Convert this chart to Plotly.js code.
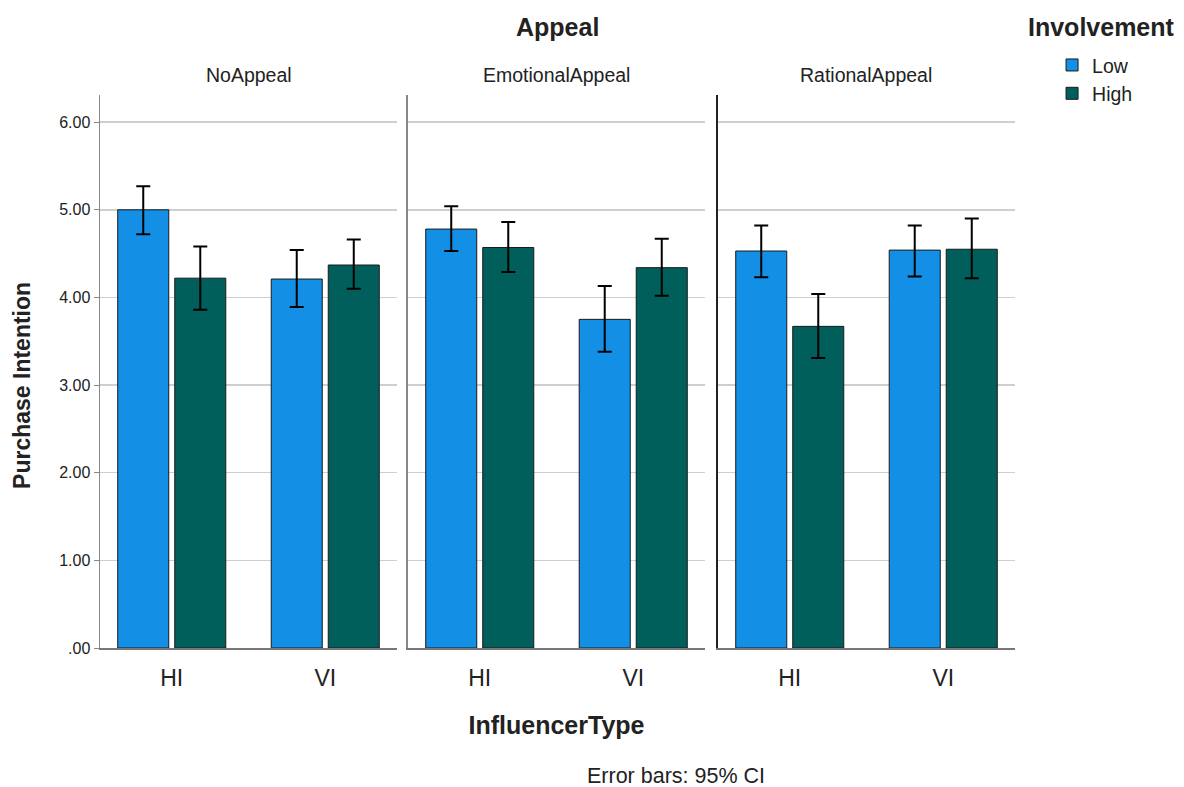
<!DOCTYPE html>
<html><head><meta charset="utf-8">
<script src="https://cdn.plot.ly/plotly-3.0.1.min.js"></script>
<style>html,body{margin:0;padding:0;background:#fff}#chart{width:1184px;height:787px}</style>
</head><body><div id="chart"></div>
<script>
const panels = ["NoAppeal", "EmotionalAppeal", "RationalAppeal"];
const categories = ["HI", "VI"];
const seriesNames = ["Low", "High"];
// means per panel [HI, VI]
const lowMeans  = [[5.00, 4.21], [4.78, 3.75], [4.53, 4.54]];
const highMeans = [[4.22, 4.37], [4.57, 4.34], [3.67, 4.55]];
// 95% CI bounds
const lowUpper  = [[5.27, 4.54], [5.04, 4.13], [4.82, 4.82]];
const lowLower  = [[4.72, 3.89], [4.53, 3.38], [4.23, 4.24]];
const highUpper = [[4.58, 4.66], [4.86, 4.67], [4.04, 4.90]];
const highLower = [[3.86, 4.10], [4.29, 4.02], [3.31, 4.22]];
const yTickVals = [0, 1, 2, 3, 4, 5, 6];
const yTickText = [".00", "1.00", "2.00", "3.00", "4.00", "5.00", "6.00"];

const colors = {Low: "#1390e6", High: "#005f5a"};
const FONT = "Liberation Sans, Arial, sans-serif";
const TXT = "#222";
const traces = [];
const seriesData = {
  Low: {m: lowMeans, u: lowUpper, l: lowLower},
  High: {m: highMeans, u: highUpper, l: highLower}
};
panels.forEach((p, i) => {
  const suffix = i === 0 ? "" : String(i + 1);
  seriesNames.forEach(s => {
    const d = seriesData[s];
    traces.push({
      type: "bar", name: s, x: categories, y: d.m[i],
      xaxis: "x" + suffix, yaxis: "y" + suffix,
      legendgroup: s, showlegend: i === 0,
      marker: {color: colors[s], line: {color: "#1a1a1a", width: 1}},
      error_y: {type: "data", symmetric: false,
        array: d.m[i].map((v, k) => d.u[i][k] - v),
        arrayminus: d.m[i].map((v, k) => v - d.l[i][k]),
        color: "#000", thickness: 2, width: 7},
      hoverinfo: "y"
    });
  });
});

const domains = [[0, 0.3246], [0.3366, 0.6612], [0.6754, 1]];
const layout = {
  width: 1184, height: 787,
  margin: {l: 100, r: 169, t: 95, b: 139},
  paper_bgcolor: "#fff", plot_bgcolor: "#fff",
  font: {family: FONT, color: TXT},
  barmode: "group", bargap: 0.257, bargroupgap: 0.105,
  showlegend: true,
  legend: {x: 1.0405, xanchor: "left", y: 1.089, yanchor: "top",
    font: {size: 19.5, family: FONT, color: TXT}, tracegroupgap: 0,
    bgcolor: "rgba(0,0,0,0)"},
  annotations: [
    {text: "<b>Appeal</b>", xref: "paper", yref: "paper", x: 0.4995, y: 1.123, xanchor: "center", yanchor: "middle", showarrow: false, font: {size: 25, family: FONT, color: TXT}},
    {text: "<b>Involvement</b>", xref: "paper", yref: "paper", x: 1.095, y: 1.123, xanchor: "center", yanchor: "middle", showarrow: false, font: {size: 25, family: FONT, color: TXT}},
    {text: "<b>Purchase Intention</b>", xref: "paper", yref: "paper", x: -0.0852, y: 0.474, xanchor: "center", yanchor: "middle", textangle: -90, showarrow: false, font: {size: 23, family: FONT, color: TXT}},
    {text: "Error bars: 95% CI", xref: "paper", yref: "paper", x: 0.6295, y: -0.2315, xanchor: "center", yanchor: "middle", showarrow: false, font: {size: 21.5, family: FONT, color: TXT}}
  ]
};
panels.forEach((p, i) => {
  const suffix = i === 0 ? "" : String(i + 1);
  layout.annotations.push({text: p, xref: "paper", yref: "paper",
    x: (domains[i][0] + domains[i][1]) / 2, y: 1.036, xanchor: "center", yanchor: "middle", showarrow: false,
    font: {size: 19.5, family: FONT, color: TXT}});
  layout["xaxis" + suffix] = {
    domain: domains[i], anchor: "y" + suffix, type: "category",
    categoryorder: "array", categoryarray: categories, range: [-0.4675, 1.4675],
    showline: true, linecolor: "#777", linewidth: 1.5,
    ticks: "outside", ticklen: 9, tickcolor: "rgba(0,0,0,0)",
    tickfont: {size: 23, family: FONT, color: TXT},
    showgrid: false, zeroline: false, fixedrange: true,
    title: i === 1 ? {text: "<b>InfluencerType</b>", font: {size: 25, family: FONT, color: TXT}, standoff: 26} : {text: ""}
  };
  layout["yaxis" + suffix] = {
    anchor: "x" + suffix, range: [0, 6.31], fixedrange: true,
    showline: true, linecolor: i === 2 ? "#222" : "#888", linewidth: 1.5,
    showgrid: true, gridcolor: "#cfcfcf", gridwidth: 1.5, zeroline: false,
    tickvals: yTickVals, ticktext: yTickText,
    showticklabels: i === 0, ticks: i === 0 ? "outside" : "", ticklen: 5, tickcolor: "#888",
    tickfont: {size: 16, family: FONT, color: TXT},
    title: {text: ""}
  };
});
Plotly.newPlot("chart", traces, layout, {displayModeBar: false, staticPlot: true});
</script></body></html>
